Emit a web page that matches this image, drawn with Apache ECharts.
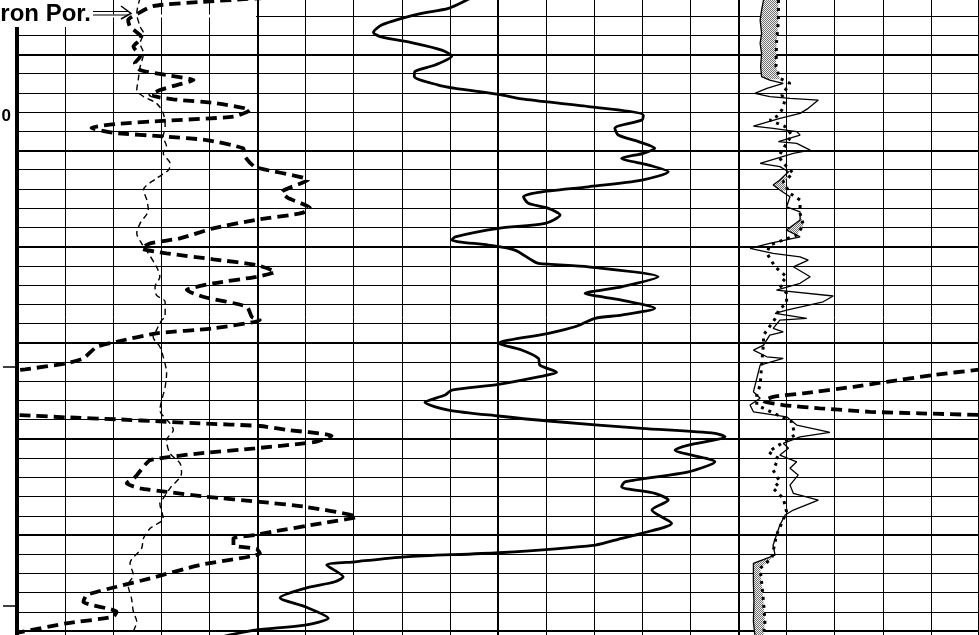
<!DOCTYPE html>
<html><head><meta charset="utf-8">
<script src="https://cdn.jsdelivr.net/npm/echarts@6/dist/echarts.min.js"></script>
<style>html,body{margin:0;padding:0;background:#fff;overflow:hidden}#c{width:979px;height:635px}</style>
</head><body><div id="c"></div>
<script>
// x: chart divisions across the log (0-20, three tracks: 0-5, 5-15, 15-20)
// y: depth in grid divisions (one minor line per unit, heavy line every 5)

const trackTwoCurve = [[9.52,-3.05],[9.35,-2.82],[8.97,-2.39],[8.41,-2.13],[8.00,-1.87],[7.58,-1.52],[7.41,-1.14],[7.55,-0.92],[8.27,-0.57],[8.83,-0.22],[9.04,0.09],[8.69,0.56],[8.27,0.90],[8.26,1.16],[8.76,1.60],[9.11,1.77],[10.01,2.08],[10.49,2.32],[11.88,2.72],[13.02,3.16],[12.99,3.42],[12.43,3.85],[12.50,4.20],[12.92,4.54],[13.26,4.89],[13.02,5.15],[12.57,5.41],[13.13,5.76],[13.54,6.11],[12.99,6.54],[11.88,6.89],[10.84,7.18],[10.53,7.41],[10.63,7.75],[11.05,8.01],[11.29,8.36],[10.98,8.79],[10.01,9.05],[9.11,9.49],[9.04,9.66],[9.80,9.92],[10.35,10.18],[10.70,10.70],[10.84,10.87],[11.88,11.05],[13.33,11.57],[12.57,12.09],[11.81,12.43],[12.57,12.78],[13.26,13.21],[12.57,13.56],[12.02,13.73],[11.60,14.17],[11.05,14.51],[10.01,15.03],[10.49,15.38],[10.84,15.81],[10.87,16.16],[11.22,16.54],[10.84,16.77],[10.01,17.16],[9.04,17.46],[8.90,17.72],[8.48,18.10],[8.97,18.50],[10.01,18.81],[11.05,19.07],[12.99,19.45],[14.51,19.71],[14.72,19.89],[13.96,20.32],[13.68,20.58],[14.51,21.19],[13.96,21.71],[12.64,22.23],[12.57,22.49],[13.26,22.83],[13.54,23.18],[13.20,23.70],[13.61,24.39],[12.99,24.91],[12.57,25.17],[12.02,25.52],[10.01,25.92],[8.07,26.13],[7.03,26.39],[6.44,26.56],[6.78,27.17],[6.61,27.43],[5.99,27.77],[5.47,28.26],[5.99,28.73],[6.47,29.33],[5.99,29.68],[4.95,29.94],[4.32,30.25]];

const porosityThickUpper = [[5.16,-2.93],[3.80,-2.72],[2.83,-2.51],[2.52,-2.13],[2.31,-1.78],[2.35,-1.44],[2.56,-1.00],[2.59,-0.85],[2.42,-0.40],[2.56,0.12],[2.45,0.47],[2.56,0.82],[3.11,1.08],[3.67,1.34],[3.32,1.60],[2.97,1.86],[2.77,2.12],[3.25,2.34],[4.15,2.55],[4.84,2.90],[4.50,3.24],[3.11,3.45],[2.07,3.62],[1.55,3.82],[2.00,4.08],[3.11,4.28],[3.94,4.46],[4.70,4.89],[4.74,5.32],[4.95,5.86],[6.05,6.54],[5.51,7.16],[5.63,7.47],[6.09,7.99],[5.93,8.25],[4.95,8.62],[4.08,9.05],[3.39,9.57],[2.77,9.83],[2.59,10.09],[3.11,10.35],[4.08,10.66],[4.98,10.96],[5.36,11.31],[4.98,11.57],[4.08,11.91],[3.53,12.26],[3.87,12.61],[4.78,13.13],[4.88,13.65],[5.05,13.82],[4.08,14.25],[2.90,14.51],[2.07,14.95],[1.66,15.21],[1.38,15.81],[1.03,16.07],[0.17,16.38],[-0.3,16.5]];

const porosityThickLower = [[-0.3,18.74],[0.06,18.76],[1.03,18.88],[2.07,18.98],[3.11,19.11],[3.80,19.19],[5.05,19.33],[5.64,19.54],[6.54,19.83],[6.20,20.15],[4.95,20.49],[3.80,20.75],[2.77,21.10],[2.63,21.45],[2.45,22.0],[2.28,22.31],[2.56,22.57],[3.11,22.75],[3.94,23.01],[5.05,23.27],[5.99,23.53],[7.06,24.05],[6.33,24.39],[5.30,24.83],[4.95,25.0],[4.50,25.17],[4.50,25.52],[4.98,25.72],[5.05,25.95],[3.80,26.56],[2.77,27.25],[2.07,27.69],[1.45,28.12],[1.38,28.47],[2.07,28.99],[2.00,29.25],[1.03,29.59],[0.10,30.03],[-0.3,30.2]];

const porosityThickWrap = [[20.05,16.38],[19.05,16.68],[18.08,17.03],[17.39,17.29],[16.35,17.63],[15.72,17.81],[15.52,18.03],[15.93,18.24],[16.69,18.41],[17.73,18.59],[18.77,18.67],[20.05,18.76]];

const porosityThin = [[2.56,-2.93],[2.49,-2.13],[2.56,-1.44],[2.63,-1.09],[2.56,-0.57],[2.63,-0.05],[2.56,0.64],[2.52,1.34],[2.49,1.86],[2.63,2.20],[2.90,2.55],[3.04,3.07],[3.08,3.76],[3.04,4.28],[3.11,4.80],[3.04,5.15],[3.18,5.67],[3.15,6.02],[2.90,6.45],[2.63,7.06],[2.70,7.58],[2.73,8.10],[2.56,8.79],[2.49,9.31],[2.59,9.83],[2.73,10.35],[2.90,11.05],[2.97,11.57],[2.87,12.09],[2.90,12.52],[3.08,12.87],[3.08,13.65],[3.01,13.82],[2.90,14.34],[2.83,14.69],[2.97,15.21],[3.04,15.73],[3.11,16.59],[3.08,17.29],[3.01,17.98],[2.97,18.50],[3.18,19.19],[3.25,19.54],[3.11,20.06],[3.18,20.75],[3.39,21.27],[3.42,21.79],[3.18,22.57],[3.04,23.09],[2.97,23.35],[3.04,24.13],[2.77,24.65],[2.63,25.17],[2.59,25.69],[2.35,26.47],[2.42,27.08],[2.31,27.60],[2.38,28.29],[2.42,28.99],[2.49,29.51],[2.42,30.03],[2.41,30.46]];

const trackThreeSolid = [[15.52,-2.82],[15.48,-2.30],[15.45,-1.78],[15.48,-1.09],[15.45,-0.57],[15.48,-0.05],[15.46,0.64],[15.48,1.16],[15.65,1.34],[15.93,1.51],[15.59,1.77],[15.34,2.03],[15.65,2.20],[16.07,2.29],[16.66,2.38],[16.45,2.81],[16.28,3.07],[15.86,3.33],[15.31,3.73],[15.72,3.85],[16.21,4.02],[16.28,4.20],[15.83,4.54],[16.21,4.63],[16.49,4.98],[16.14,5.15],[15.45,5.67],[15.86,5.84],[16.04,6.11],[15.86,6.54],[15.72,6.80],[15.86,7.06],[16.07,7.41],[16.00,7.93],[16.28,8.19],[16.28,8.62],[16.00,9.14],[16.28,9.49],[15.65,9.83],[15.24,10.09],[15.72,10.35],[16.28,10.53],[16.45,10.70],[16.14,11.05],[16.49,11.57],[16.28,11.91],[15.79,12.26],[16.97,12.57],[16.76,12.87],[16.00,13.30],[15.76,13.47],[16.42,13.73],[15.86,13.82],[15.72,14.25],[15.93,14.43],[15.65,14.60],[15.52,15.12],[15.31,15.38],[15.59,15.73],[15.93,15.81],[15.45,16.16],[15.38,16.85],[15.31,17.55],[15.45,17.89],[15.24,18.24],[15.31,18.59],[16.00,18.85],[16.21,19.28],[16.69,19.54],[16.90,19.66],[16.28,19.89],[15.93,20.23],[16.04,20.49],[15.86,20.84],[16.21,21.19],[16.07,21.53],[16.24,21.88],[16.07,22.40],[16.14,22.83],[16.66,23.18],[16.14,23.70],[15.97,23.96],[15.86,24.48],[15.79,25.00],[15.72,25.52],[15.76,26.04],[15.31,26.47],[15.31,27.43],[15.32,28.47],[15.31,29.51],[15.34,30.20]];

const trackThreeDotted = [[15.83,-2.82],[15.83,-1.78],[15.79,-0.57],[15.78,0.64],[15.86,1.25],[16.07,1.51],[15.90,2.12],[15.97,2.38],[15.90,2.90],[15.79,3.24],[15.65,3.42],[15.97,3.76],[16.11,4.20],[16.00,4.63],[15.83,5.32],[16.00,5.84],[16.14,6.19],[15.93,6.63],[16.07,7.23],[16.28,7.58],[16.28,8.27],[16.35,8.88],[16.21,9.40],[15.65,9.92],[15.59,10.35],[15.76,11.05],[16.00,11.57],[15.86,12.00],[16.00,12.43],[16.00,12.95],[15.83,13.30],[15.79,13.65],[15.52,14.60],[15.52,14.95],[15.45,17.20],[15.38,17.72],[15.38,18.24],[16.11,19.11],[16.17,19.80],[15.62,20.67],[15.83,21.01],[15.72,21.62],[15.86,22.23],[15.72,22.57],[15.93,23.09],[16.00,23.79],[15.79,25.00],[15.69,26.21],[15.45,26.73],[15.48,27.43],[15.52,28.47],[15.55,29.51],[15.52,30.20]];

// depth intervals where the area between the two track-3 curves is stippled
const shadeIntervals = [[-3.0,1.3],[6.4,7.1],[8.4,9.5],[26.2,30.5]];

// depth-track annotations
const depthTickValues = [16.25, 28.69];
const depthLabelValues = [3.21];
const depthLabelTexts = ['0'];
const headerText = 'ron Por.';

function interp(curve, y) {
  if (y <= curve[0][1]) return curve[0][0];
  for (let i = 0; i < curve.length - 1; i++) {
    const a = curve[i], b = curve[i + 1];
    if (y >= a[1] && y <= b[1]) {
      const t = b[1] === a[1] ? 0 : (y - a[1]) / (b[1] - a[1]);
      return a[0] + t * (b[0] - a[0]);
    }
  }
  return curve[curve.length - 1][0];
}

const pc = document.createElement('canvas');
pc.width = 2; pc.height = 2;
const pctx = pc.getContext('2d');
pctx.fillStyle = '#f0f0f0'; pctx.fillRect(0, 0, 2, 2);
pctx.fillStyle = '#707070'; pctx.fillRect(0, 0, 1, 1); pctx.fillRect(1, 1, 1, 1);
const stipple = { image: pc, repeat: 'repeat' };

const chart = echarts.init(document.getElementById('c'), null, { renderer: 'canvas' });

const minorLine = { show: true, lineStyle: { color: '#000', width: 1 } };
const majorLine = { show: true, lineStyle: { color: '#000', width: 2 } };

chart.setOption({
  animation: false,
  backgroundColor: '#fff',
  grid: { left: 17, right: 0, top: -41.85, height: 769.2, containLabel: false, outerBoundsMode: 'none' },
  xAxis: [{
    type: 'value', min: 0, max: 20, interval: 5, position: 'top',
    axisLine: { show: false }, axisTick: { show: false }, axisLabel: { show: false },
    splitLine: majorLine,
    minorTick: { show: false, splitNumber: 5 },
    minorSplitLine: minorLine
  }],
  yAxis: [{
    type: 'value', min: -5, max: 35, interval: 5, inverse: true,
    axisLine: { show: true, onZero: false, lineStyle: { color: '#000', width: 4 } },
    axisTick: { show: false }, axisLabel: { show: false },
    splitLine: majorLine,
    minorTick: { show: false, splitNumber: 5 },
    minorSplitLine: minorLine
  }, {
    type: 'value', min: -5, max: 35, inverse: true, position: 'left',
    axisLine: { show: false },
    splitLine: { show: false },
    axisTick: { show: true, inside: false, length: 14, customValues: depthTickValues, lineStyle: { color: '#000', width: 1.5 } },
    axisLabel: {
      show: true, customValues: depthLabelValues, margin: 6,
      color: '#000', fontWeight: 'bold', fontSize: 17, fontFamily: 'Liberation Sans, Arial, sans-serif',
      formatter: function (v) { const i = depthLabelValues.indexOf(v); return i >= 0 ? depthLabelTexts[i] : ''; }
    }
  }],
  series: [
    {
      type: 'custom', name: 'shade', z: 1, clip: true,
      data: shadeIntervals.map(iv => [15.5, iv[0]]),
      renderItem: function (params, api) {
        const iv = shadeIntervals[params.dataIndex];
        const left = [], right = [];
        for (let y = iv[0]; y <= iv[1] + 1e-9; y += 0.02) {
          const s = interp(trackThreeSolid, y), d = interp(trackThreeDotted, y);
          left.push(api.coord([s, y]));
          right.push(api.coord([Math.max(s, d), y]));
        }
        return { type: 'polygon', shape: { points: left.concat(right.reverse()) }, style: { fill: stipple, stroke: null } };
      }
    },
    { type: 'line', name: 'track2', data: trackTwoCurve, showSymbol: false, smooth: 0.25, z: 3,
      lineStyle: { color: '#000', width: 2.8 } },
    { type: 'line', name: 'porThickA', data: porosityThickUpper, showSymbol: false, smooth: 0.2, z: 3,
      lineStyle: { color: '#000', width: 3.8, type: [11, 6] } },
    { type: 'line', name: 'porThickB', data: porosityThickLower, showSymbol: false, smooth: 0.2, z: 3,
      lineStyle: { color: '#000', width: 3.8, type: [11, 6] } },
    { type: 'line', name: 'porThickWrap', data: porosityThickWrap, showSymbol: false, smooth: 0.2, z: 3,
      lineStyle: { color: '#000', width: 3.8, type: [11, 6] } },
    { type: 'line', name: 'porThin', data: porosityThin, showSymbol: false, smooth: 0.3, z: 3,
      lineStyle: { color: '#000', width: 1.4, type: [6, 4] } },
    { type: 'line', name: 'track3Solid', data: trackThreeSolid, showSymbol: false, z: 3,
      lineStyle: { color: '#000', width: 1.3 } },
    { type: 'line', name: 'track3Dotted', data: trackThreeDotted, showSymbol: false, z: 3,
      lineStyle: { color: '#000', width: 3, type: [3, 5], cap: 'butt' } }
  ],
  graphic: [
    { type: 'rect', z: 1, shape: { x: 99, y: 14.5, width: 157, height: 3 }, style: { fill: '#fff' } },
    { type: 'rect', z: 100, shape: { x: 0, y: 0, width: 100, height: 27 }, style: { fill: '#fff' } },
    { type: 'text', z: 101, x: 91, y: 14,
      style: { text: headerText, font: 'bold 24px "Liberation Sans", Arial, sans-serif', fill: '#000',
               textAlign: 'right', textVerticalAlign: 'middle', align: 'right', verticalAlign: 'middle' } },
    { type: 'line', z: 101, shape: { x1: 93, y1: 11.5, x2: 128, y2: 11.5 }, style: { stroke: '#000', lineWidth: 1.2 } },
    { type: 'line', z: 101, shape: { x1: 93, y1: 15, x2: 128, y2: 15 }, style: { stroke: '#000', lineWidth: 1.2 } },
    { type: 'polyline', z: 101, shape: { points: [[121, 6], [131, 13.3], [121, 19]] }, style: { stroke: '#000', lineWidth: 1.5, fill: null } }
  ]
});
</script>
</body></html>
